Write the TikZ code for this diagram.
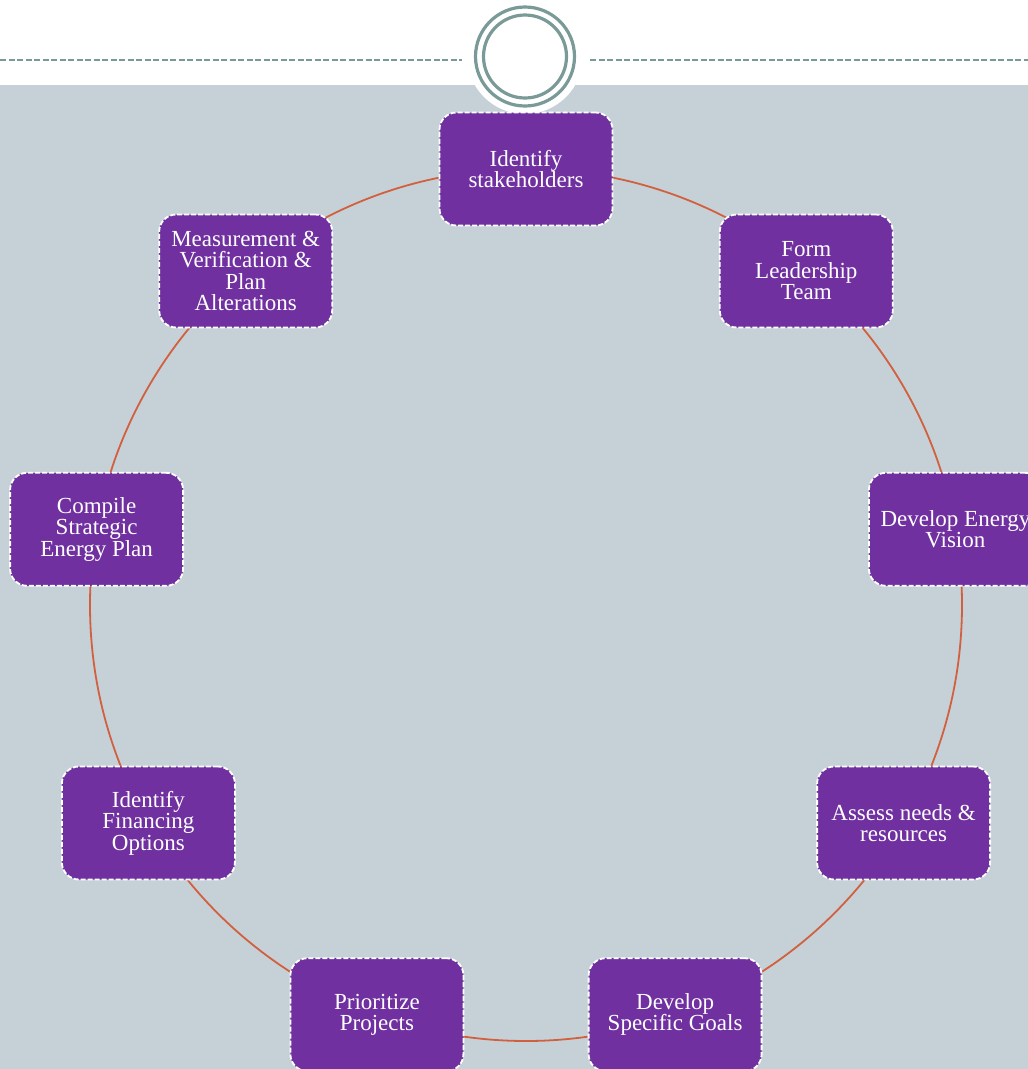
\documentclass[tikz,border=0pt]{standalone}
\usepackage{fontspec}
\setmainfont{Liberation Serif}
\definecolor{bg}{HTML}{C5D1D7}
\definecolor{purp}{HTML}{7030A0}
\definecolor{ring}{HTML}{7A9A98}
\definecolor{arcc}{HTML}{D2603E}
\begin{document}
\begin{tikzpicture}[x=1pt,y=-1pt,
 stepbox/.style={draw=white, fill=purp, rounded corners=17pt, minimum width=173pt, minimum height=113pt, line width=1.8pt, dash pattern=on 5pt off 2pt, text=white, font=\fontsize{23}{21.5}\selectfont, align=center, inner sep=2pt}]
\useasboundingbox (0,0) rectangle (1028,1069);
\fill[white] (0,0) rectangle (1028,1069);
\fill[bg] (0,85) rectangle (1028,1069);
\draw[ring, line width=2pt, dash pattern=on 6pt off 2.5pt] (0,60) -- (462,60);
\draw[ring, line width=2pt, dash pattern=on 6pt off 2.5pt] (590,60) -- (1028,60);
\fill[white] (525,56) circle (58pt);
\draw[ring, line width=3.2pt] (525,56.5) circle (49.5pt);
\draw[ring, line width=3.2pt] (525,56.5) circle (41.5pt);
\draw[arcc, line width=1.8pt] (526,605) circle (436pt);
\node[stepbox] (n1) at (526,169) {Identify\\stakeholders};
\node[stepbox] (n2) at (806.3,271) {Form\\Leadership\\Team};
\node[stepbox] (n3) at (955.4,529.3) {Develop Energy\\Vision};
\node[stepbox] (n4) at (903.6,823) {Assess needs \&\\resources};
\node[stepbox] (n5) at (675.1,1014.7) {Develop\\Specific Goals};
\node[stepbox] (n6) at (376.9,1014.7) {Prioritize\\Projects};
\node[stepbox] (n7) at (148.4,823) {Identify\\Financing\\Options};
\node[stepbox] (n8) at (96.6,529.3) {Compile\\Strategic\\Energy Plan};
\node[stepbox] (n9) at (245.7,271) {Measurement \&\\Verification \&\\Plan\\Alterations};
\end{tikzpicture}
\end{document}
